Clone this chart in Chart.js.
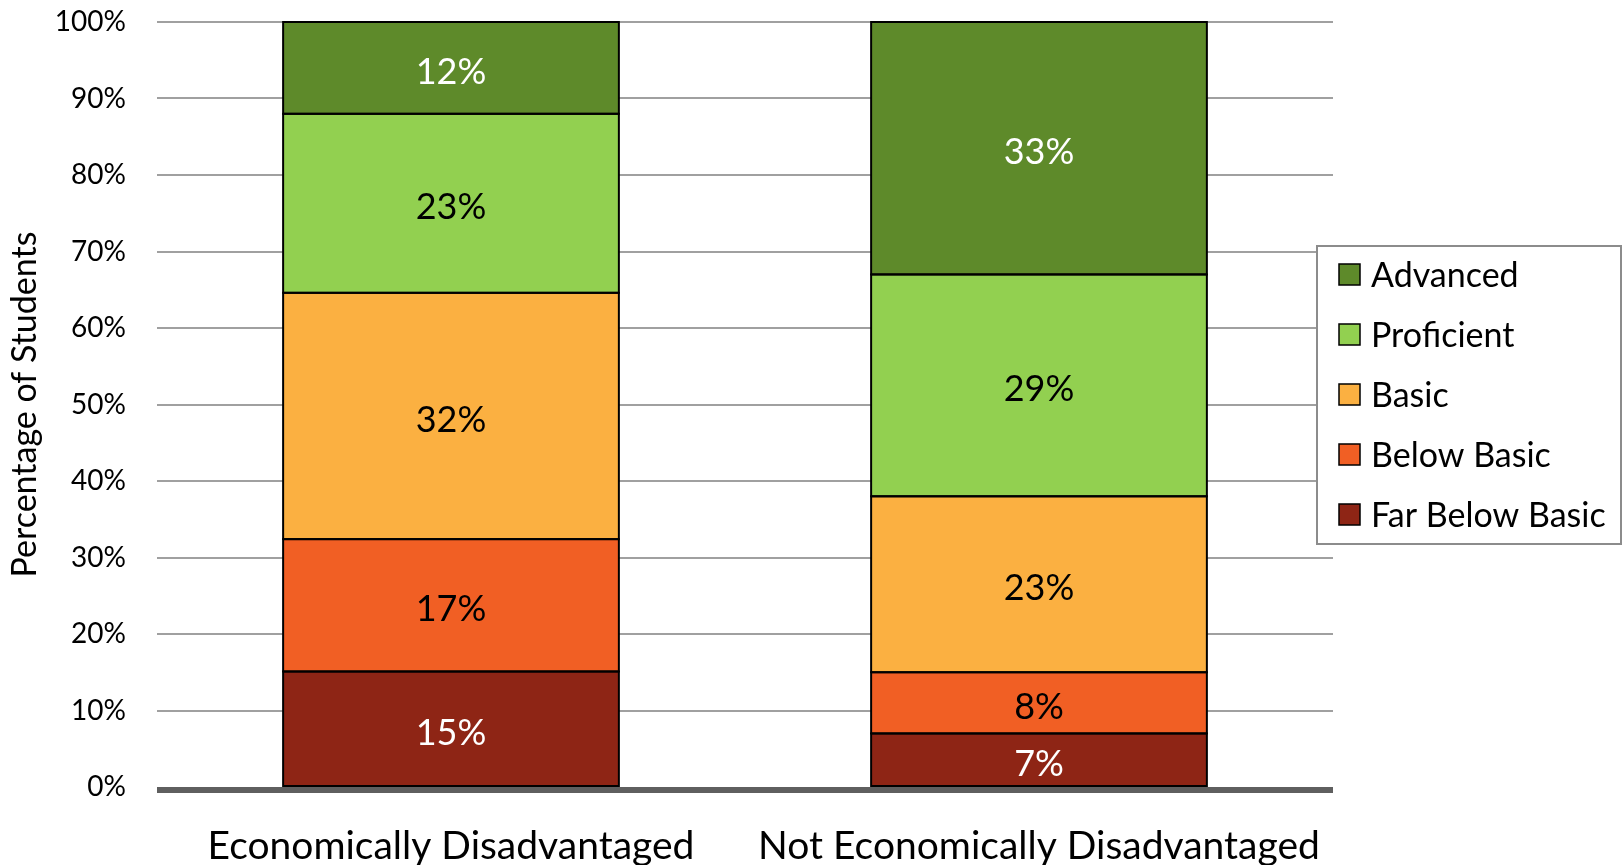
<!DOCTYPE html>
<html>
<head>
<meta charset="utf-8">
<script src="https://cdn.jsdelivr.net/npm/chart.js@4/dist/chart.umd.min.js"></script>
<style>
  html, body { margin: 0; padding: 0; background: #ffffff; }
  #wrap { width: 1624px; height: 865px; position: relative; }
  canvas { display: block; }
</style>
</head>
<body>
<div id="wrap"><canvas id="chart" width="1624" height="865"></canvas></div>
<script>
// Student performance levels by economic status (percent of students)
const categories = ['Economically Disadvantaged', 'Not Economically Disadvantaged'];
const farBelowBasic = [15.1, 7];
const belowBasic    = [17.3, 8];
const basic         = [32.2, 23];
const proficient    = [23.4, 29];
const advanced      = [12.0, 33];
const levelNames  = ['Far Below Basic', 'Below Basic', 'Basic', 'Proficient', 'Advanced'];
const levelColors = ['#8e2515', '#f15f24', '#fbb041', '#92d050', '#5e8a2a'];
const valueTextColors = ['#ffffff', '#000000', '#000000', '#000000', '#ffffff'];
const yTickValues = [0, 10, 20, 30, 40, 50, 60, 70, 80, 90, 100];

const FONT = 'Lato, "Open Sans", sans-serif';
const seriesValues = [farBelowBasic, belowBasic, basic, proficient, advanced];

const datasets = seriesValues.map((vals, i) => ({
  label: levelNames[i],
  data: vals,
  backgroundColor: levelColors[i],
  borderWidth: 0,
  categoryPercentage: 1.0,
  barPercentage: 0.571
}));

// Black outline around every stacked segment
const segmentOutlines = {
  id: 'segmentOutlines',
  afterDatasetsDraw(chart) {
    const ctx = chart.ctx;
    ctx.save();
    ctx.strokeStyle = '#000000';
    ctx.lineWidth = 2;
    chart.data.datasets.forEach((ds, di) => {
      chart.getDatasetMeta(di).data.forEach((bar) => {
        const left = bar.x - bar.width / 2;
        const top = Math.min(bar.y, bar.base);
        const h = Math.abs(bar.base - bar.y);
        ctx.strokeRect(left, top, bar.width, h);
      });
    });
    ctx.restore();
  }
};

// Percent labels centred in each stacked segment
const segmentLabels = {
  id: 'segmentLabels',
  afterDatasetsDraw(chart) {
    const ctx = chart.ctx;
    ctx.save();
    ctx.font = '36px ' + FONT;
    ctx.textAlign = 'center';
    ctx.textBaseline = 'alphabetic';
    chart.data.datasets.forEach((ds, di) => {
      const meta = chart.getDatasetMeta(di);
      meta.data.forEach((bar, j) => {
        const v = ds.data[j];
        const cy = (bar.y + bar.base) / 2;
        ctx.fillStyle = valueTextColors[di];
        ctx.fillText(Math.round(v) + '%', bar.x, cy + 16);
      });
    });
    ctx.restore();
  }
};

// Heavy baseline under the bars
const baseLine = {
  id: 'baseLine',
  afterDatasetsDraw(chart) {
    const { ctx, chartArea } = chart;
    const y0 = chart.scales.y.getPixelForValue(0);
    ctx.save();
    ctx.fillStyle = '#5f5f5f';
    ctx.fillRect(chartArea.left, y0, chartArea.right - chartArea.left, 6);
    ctx.restore();
  }
};

// Boxed legend, top level first, overlapping the right edge of the plot
const boxLegend = {
  id: 'boxLegend',
  afterDraw(chart) {
    const ctx = chart.ctx;
    const box = { x: 1317, y: 246, w: 304, h: 298 };
    ctx.save();
    ctx.fillStyle = '#ffffff';
    ctx.fillRect(box.x, box.y, box.w, box.h);
    ctx.strokeStyle = '#8c8c8c';
    ctx.lineWidth = 2;
    ctx.strokeRect(box.x, box.y, box.w, box.h);
    ctx.font = '34px ' + FONT;
    ctx.textAlign = 'left';
    ctx.textBaseline = 'alphabetic';
    const order = [4, 3, 2, 1, 0];
    order.forEach((di, row) => {
      const cy = 275 + row * 60;
      ctx.fillStyle = levelColors[di];
      ctx.fillRect(1339, cy - 11, 21, 21);
      ctx.strokeStyle = '#000000';
      ctx.lineWidth = 1.5;
      ctx.strokeRect(1339, cy - 11, 21, 21);
      ctx.fillStyle = '#000000';
      ctx.fillText(levelNames[di], 1371, cy + 12);
    });
    ctx.restore();
  }
};

function build() {
  new Chart(document.getElementById('chart'), {
    type: 'bar',
    data: { labels: categories, datasets },
    plugins: [segmentOutlines, segmentLabels, baseLine, boxLegend],
    options: {
      responsive: false,
      animation: false,
      layout: { padding: { top: 22, right: 291, left: 0, bottom: 0 } },
      plugins: { legend: { display: false }, tooltip: { enabled: false }, title: { display: false } },
      scales: {
        x: {
          stacked: true,
          grid: { display: false, drawTicks: false },
          border: { display: false },
          ticks: { color: '#000000', font: { family: FONT, size: 39 }, padding: 36, maxRotation: 0 },
          afterFit(scale) { scale.height = 78; scale.paddingLeft = 0; scale.paddingRight = 0; }
        },
        y: {
          stacked: true,
          min: 0,
          max: 100,
          afterBuildTicks(scale) { scale.ticks = yTickValues.map(v => ({ value: v })); },
          grid: {
            color: (c) => c.tick && c.tick.value === 0 ? 'rgba(0,0,0,0)' : '#a0a0a0',
            lineWidth: 2,
            drawTicks: false
          },
          border: { display: false },
          ticks: {
            color: '#000000',
            font: { family: FONT, size: 28 },
            padding: 31,
            callback: (v) => v + '%'
          },
          title: {
            display: true,
            text: 'Percentage of Students',
            color: '#000000',
            font: { family: FONT, size: 34 },
            padding: { top: 5, bottom: 0 }
          },
          afterFit(scale) { scale.width = 157; scale.paddingTop = 0; scale.paddingBottom = 0; }
        }
      }
    }
  });
}

if (document.fonts && document.fonts.load) {
  Promise.all([
    document.fonts.load('36px Lato'),
    document.fonts.load('28px Lato')
  ]).then(build, build);
} else {
  build();
}
</script>
</body>
</html>
